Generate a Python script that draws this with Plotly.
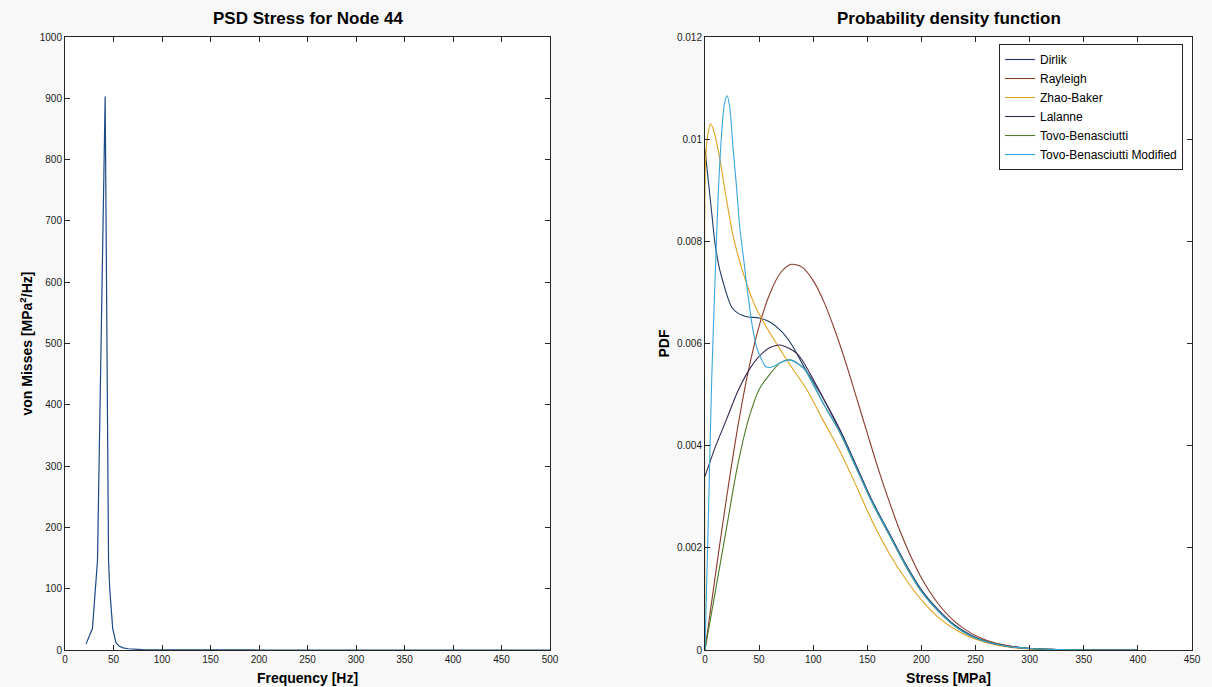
import plotly.graph_objects as go

# ---------------- Left panel: PSD stress ----------------
freq_hz = [21.7, 28.3, 33.5, 41.4, 44.9, 46.1, 49.2, 52.5, 56, 60, 65, 70, 80, 90,
           100, 125, 150, 200, 250, 300, 350, 400, 450, 500]
psd_vm = [10, 35, 146, 903, 146, 100, 35, 12, 6, 3.5, 2, 1.2, 0.6, 0.35,
          0.25, 0.12, 0.08, 0.04, 0.025, 0.015, 0.01, 0.008, 0.006, 0.005]

# ---------------- Right panel: PDFs ----------------
dirlik_s = [0, 2, 4, 6, 9, 13, 17, 21, 25, 30, 35, 40, 50, 60, 70, 80, 90, 100, 110,
            125, 140, 155, 170, 185, 200, 215, 230, 245, 260, 280, 300, 325, 350, 400]
dirlik_p = [0.0098, 0.0094, 0.0090, 0.0086, 0.0080, 0.0075, 0.00718, 0.0069, 0.0067,
            0.0066, 0.00655, 0.00652, 0.0065, 0.00642, 0.00625, 0.00598, 0.0056, 0.00525,
            0.0049, 0.0043, 0.0036, 0.0029, 0.0023, 0.0017, 0.00118, 0.0008, 0.0005,
            0.0003, 0.00017, 0.00008, 0.00003, 0.00001, 0.0, 0.0]

rayleigh_s = [0, 10, 20, 30, 40, 50, 60, 70, 80, 90, 100, 110, 120, 130, 140, 150,
              160, 170, 180, 190, 200, 215, 230, 245, 260, 280, 300, 320, 350, 400]
rayleigh_p = [0.0, 0.00153, 0.00299, 0.00433, 0.00546, 0.00634, 0.00698, 0.00739,
              0.00755, 0.00749, 0.00723, 0.00681, 0.00626, 0.00563, 0.00494, 0.00424,
              0.00355, 0.00292, 0.00234, 0.00184, 0.00141, 0.00092, 0.00057, 0.00034,
              0.00019, 0.00008, 0.00003, 0.00001, 0.0, 0.0]

zhao_s = [0, 0.4, 2, 5.3, 9, 13.8, 20, 26, 35, 45, 52, 66, 78, 94, 109, 124.5, 140,
          155, 170, 185, 200, 215, 232, 245, 263, 280, 300, 325, 350, 400]
zhao_p = [0.0, 0.0095, 0.0100, 0.0103, 0.0101, 0.0096, 0.0088, 0.0081, 0.0074,
          0.0068, 0.0065, 0.0060, 0.0056, 0.0051, 0.0045, 0.0039, 0.0032, 0.0025,
          0.0019, 0.0014, 0.00098, 0.00065, 0.00039, 0.00025, 0.00013, 0.00006,
          0.00002, 0.00001, 0.0, 0.0]

lalanne_s = [0, 10, 20, 30, 40, 50, 60, 69, 78, 85, 92, 100, 110, 125, 140, 155, 170,
             185, 200, 215, 230, 245, 260, 280, 300, 325, 350, 400]
lalanne_p = [0.0034, 0.0040, 0.00452, 0.00505, 0.00546, 0.00575, 0.00592, 0.00597,
             0.0059, 0.0058, 0.0056, 0.0053, 0.0049, 0.00428, 0.00358, 0.00288, 0.00228,
             0.00168, 0.00116, 0.00078, 0.00049, 0.00029, 0.00016, 0.00007, 0.00003,
             0.00001, 0.0, 0.0]

tovo_s = [0, 10, 20, 30, 40, 50, 60, 70, 78, 85, 92, 100, 110, 125, 140, 155, 170,
          185, 200, 215, 230, 245, 260, 280, 300, 325, 350, 400]
tovo_p = [0.0, 0.0012, 0.0024, 0.0036, 0.0045, 0.0051, 0.0054, 0.00563, 0.00568,
          0.00562, 0.0055, 0.0052, 0.0048, 0.00424, 0.00355, 0.00286, 0.00226, 0.00166,
          0.00114, 0.00077, 0.00048, 0.00028, 0.00016, 0.00007, 0.00003, 0.00001, 0.0, 0.0]

tovo_mod_s = [0, 3, 6.2, 9.2, 12, 15, 18, 20.5, 23, 26, 29, 32, 36, 40, 44, 48, 52, 56,
              60, 65, 70, 78, 85, 92, 100, 110, 125, 140, 155, 170, 185, 200, 215, 230,
              245, 260, 280, 300, 325, 350, 400]
tovo_mod_p = [0.0, 0.0025, 0.0053, 0.0072, 0.0088, 0.0100, 0.0107, 0.01085, 0.0106,
              0.0098, 0.0091, 0.0083, 0.0076, 0.0069, 0.0063, 0.0059, 0.0057, 0.00555,
              0.00553, 0.00557, 0.00563, 0.00568, 0.00562, 0.0055, 0.0052, 0.0048,
              0.00425, 0.00356, 0.00287, 0.00227, 0.00167, 0.00115, 0.00077, 0.00048,
              0.00028, 0.00016, 0.00007, 0.00003, 0.00001, 0.0, 0.0]

series = [
    ("Dirlik", dirlik_s, dirlik_p, "#1f3b63"),
    ("Rayleigh", rayleigh_s, rayleigh_p, "#8b3a2c"),
    ("Zhao-Baker", zhao_s, zhao_p, "#e2a21e"),
    ("Lalanne", lalanne_s, lalanne_p, "#3b2752"),
    ("Tovo-Benasciutti", tovo_s, tovo_p, "#4d7a27"),
    ("Tovo-Benasciutti Modified", tovo_mod_s, tovo_mod_p, "#38a6dc"),
]

FONT = "Liberation Sans, Arial, Helvetica, sans-serif"
W, H = 1212, 687
BG = "#f8f8f8"
ML, MR, MT, MB = 65, 20, 37, 37
PW = W - ML - MR          # plot-area width
PH = H - MT - MB          # plot-area height

fig = go.Figure()
fig.add_trace(go.Scatter(x=freq_hz, y=psd_vm, mode="lines", showlegend=False,
                         line=dict(color="#1b4a87", width=1.2),
                         xaxis="x", yaxis="y", name="PSD"))
for name, xs, ys, col in series:
    fig.add_trace(go.Scatter(x=xs, y=ys, mode="lines", name=name,
                             line=dict(color=col, width=1.1, shape="spline", smoothing=0.8),
                             xaxis="x2", yaxis="y2"))

axis_common = dict(showline=True, linecolor="#262626", linewidth=1, mirror="ticks",
                   ticks="inside", ticklen=5, tickcolor="#262626", showgrid=False,
                   zeroline=False, automargin=False,
                   tickfont=dict(size=10, color="#1a1a1a", family=FONT))
title_font = dict(size=14, color="#000000", family=FONT, weight="bold")

fig.update_layout(
    width=W, height=H,
    margin=dict(l=ML, r=MR, t=MT, b=MB, pad=0, autoexpand=False),
    paper_bgcolor=BG,
    plot_bgcolor="#ffffff",
    font=dict(family=FONT),
    xaxis=dict(domain=[0, (550 - ML) / PW], range=[0, 500], dtick=50, anchor="y",
               title=dict(text="Frequency [Hz]", font=title_font, standoff=9),
               **axis_common),
    yaxis=dict(domain=[0, 1], range=[0, 1000], dtick=100, anchor="x",
               title=dict(text="von Misses [MPa<sup>2</sup>/Hz]", font=title_font, standoff=3),
               **axis_common),
    xaxis2=dict(domain=[(705 - ML) / PW, 1], range=[0, 450], dtick=50, anchor="y2",
                title=dict(text="Stress [MPa]", font=title_font, standoff=9),
                **axis_common),
    yaxis2=dict(domain=[0, 1], range=[0, 0.012], dtick=0.002, anchor="x2",
                title=dict(text="PDF", font=title_font, standoff=4),
                **axis_common),
    legend=dict(x=(1183 - ML) / PW, y=1 - (44 - MT) / PH, xanchor="right", yanchor="top",
                bgcolor="#ffffff", bordercolor="#262626", borderwidth=1,
                font=dict(size=12, color="#000000", family=FONT),
                tracegroupgap=0, itemwidth=30),
    annotations=[
        dict(text="<b>PSD Stress for Node 44</b>", x=(550 - ML) / 2 / PW,
             y=1 + (MT - 19) / PH,
             xref="paper", yref="paper", showarrow=False, xanchor="center", yanchor="middle",
             font=dict(size=17, color="#000000", family=FONT)),
        dict(text="<b>Probability density function</b>", x=((705 + 1192) / 2 - ML) / PW,
             y=1 + (MT - 19) / PH,
             xref="paper", yref="paper", showarrow=False, xanchor="center", yanchor="middle",
             font=dict(size=17, color="#000000", family=FONT)),
    ],
)

fig.write_html("out.html",
               config={"displayModeBar": False},
               post_script="document.body.style.margin='0';"
                           "document.body.style.background='" + BG + "';")
